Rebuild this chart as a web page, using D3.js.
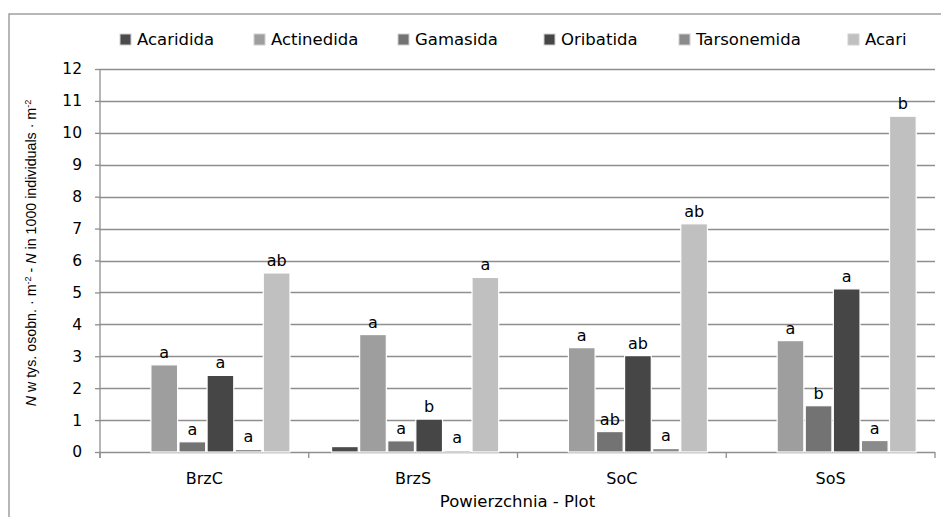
<!DOCTYPE html>
<html>
<head>
<meta charset="utf-8">
<script src="https://cdn.jsdelivr.net/npm/d3@7"></script>
<style>
  body { margin: 0; background: #fff; }
  svg { display: block; }
  text { fill: #000; }
</style>
</head>
<body>
<div class="chart"></div>
<script>
// data
var plots = ["BrzC", "BrzS", "SoC", "SoS"];
var series = ["Acaridida", "Actinedida", "Gamasida", "Oribatida", "Tarsonemida", "Acari"];
var acaridida   = [0,    0.17, 0,    0];
var actinedida  = [2.73, 3.68, 3.27, 3.49];
var gamasida    = [0.32, 0.35, 0.64, 1.45];
var oribatida   = [2.40, 1.03, 3.02, 5.11];
var tarsonemida = [0.08, 0.05, 0.11, 0.36];
var acari       = [5.61, 5.47, 7.15, 10.52];
var letters = [
  ["", "a", "a", "a", "a", "ab"],
  ["", "a", "a", "b", "a", "a"],
  ["", "a", "ab", "ab", "a", "ab"],
  ["", "a", "b", "a", "a", "b"]
];
var yTicks = [0,1,2,3,4,5,6,7,8,9,10,11,12];

var values = [acaridida, actinedida, gamasida, oribatida, tarsonemida, acari];
var colors = ["#4b4b4b", "#9e9e9e", "#737373", "#464646", "#8b8b8b", "#c0c0c0"];

//layout
var W = 941, H = 517;
var plotL = 100, plotR = 935, plotT = 69, base = 452;
var legendX = [120, 254, 398, 544, 679, 848];

var svg = d3.select(".chart").append("svg").attr("width", W).attr("height", H);
svg.append("rect").attr("width", W).attr("height", H).attr("fill", "#fff");

// outer frame (left + top edges visible)
svg.append("path").attr("d", "M9,530V14H960")
  .attr("fill", "none").attr("stroke", "#a0a0a0").attr("stroke-width", 1.5);

var y = d3.scaleLinear().domain([0, 12]).range([base, plotT]);
var x0 = d3.scaleBand().domain(plots).range([plotL, plotR]).padding(0);
var x1 = d3.scaleBand().domain(series).range([2, x0.bandwidth() + 2])
  .paddingInner(0.05).paddingOuter(0.74);

// gridlines
svg.append("g").selectAll("line").data(yTicks).enter().append("line")
  .attr("x1", plotL).attr("x2", plotR)
  .attr("y1", function(d) { return Math.round(y(d)) + 0.5; })
  .attr("y2", function(d) { return Math.round(y(d)) + 0.5; })
  .attr("stroke", "#8e8e8e").attr("stroke-width", 1.3);

// y axis
var yAxis = svg.append("g").attr("transform", "translate(" + plotL + ",0)")
  .call(d3.axisLeft(y).tickValues(yTicks).tickSize(5).tickPadding(13));
yAxis.selectAll("path, line").attr("stroke", "#8e8e8e").attr("stroke-width", 1.3);
yAxis.select(".domain").attr("d", "M0," + (base + 6) + "V" + plotT);
yAxis.selectAll("text").attr("font-family", "DejaVu Sans").attr("font-size", 15.5).attr("fill", "#000");

// x axis ticks at category boundaries
var bounds = plots.map(function(p) { return x0(p); }).concat([plotR]);
svg.append("g").selectAll("line").data(bounds).enter().append("line")
  .attr("x1", function(d) { return d; }).attr("x2", function(d) { return d; })
  .attr("y1", base).attr("y2", base + 6)
  .attr("stroke", "#8e8e8e").attr("stroke-width", 1.3);

svg.append("g").selectAll("text").data(plots).enter().append("text")
  .attr("x", function(d) { return x0(d) + x0.bandwidth() / 2; })
  .attr("y", 484)
  .attr("text-anchor", "middle")
  .attr("font-family", "DejaVu Sans").attr("font-size", 16)
  .text(function(d) { return d; });

// bars
var groups = svg.append("g").selectAll("g").data(plots).enter().append("g")
  .attr("transform", function(d) { return "translate(" + x0(d) + ",0)"; });

groups.selectAll("rect")
  .data(function(p, pi) {
    return series.map(function(s, si) { return { s: s, si: si, v: values[si][pi], l: letters[pi][si] }; });
  })
  .enter().append("rect")
    .attr("x", function(d) { return x1(d.s); })
    .attr("width", x1.bandwidth())
    .attr("y", function(d) { return y(d.v); })
    .attr("height", function(d) { return base - y(d.v); })
    .attr("fill", function(d) { return colors[d.si]; })
    .attr("stroke", "#fff").attr("stroke-width", 1.2)
    .style("display", function(d) { return d.v > 0 ? null : "none"; });

// significance letters
groups.selectAll("text")
  .data(function(p, pi) {
    return series.map(function(s, si) { return { s: s, v: values[si][pi], l: letters[pi][si] }; })
      .filter(function(d) { return d.l; });
  })
  .enter().append("text")
    .attr("x", function(d) { return x1(d.s) + x1.bandwidth() / 2; })
    .attr("y", function(d) { return y(d.v) - 7; })
    .attr("text-anchor", "middle")
    .attr("font-family", "DejaVu Sans").attr("font-size", 16)
    .text(function(d) { return d.l; });

// legend
var leg = svg.append("g").selectAll("g").data(series).enter().append("g")
  .attr("transform", function(d, i) { return "translate(" + legendX[i] + ",34)"; });
leg.append("rect").attr("width", 11).attr("height", 11)
  .attr("fill", function(d, i) { return colors[i]; })
  .attr("stroke", "#d0d0d0").attr("stroke-width", 1);
leg.append("text").attr("x", 17).attr("y", 11)
  .attr("font-family", "DejaVu Sans").attr("font-size", 16.5)
  .text(function(d) { return d; });

// x title
svg.append("text").attr("x", (plotL + plotR) / 2).attr("y", 507)
  .attr("text-anchor", "middle")
  .attr("font-family", "DejaVu Sans").attr("font-size", 16.5)
  .text("Powierzchnia - Plot");

// y title, squeezed to the figure's length
var yt = svg.append("text")
  .attr("font-family", "Liberation Sans").attr("font-size", 14)
  .attr("text-anchor", "middle");
function part(t, italic, sup) {
  var ts = yt.append("tspan").text(t);
  if (italic) ts.attr("font-style", "italic");
  if (sup) ts.attr("font-size", 9).attr("baseline-shift", "super");
}
part("N", true); part(" w tys. osobn. · m"); part("-2", false, true);
part(" - "); part("N", true); part(" in 1000 individuals · m"); part("-2", false, true);
var len = yt.node().getComputedTextLength();
var sx = 307 / len;
yt.attr("transform", "translate(36,253) rotate(-90) scale(" + sx + ",1)");
</script>
</body>
</html>
